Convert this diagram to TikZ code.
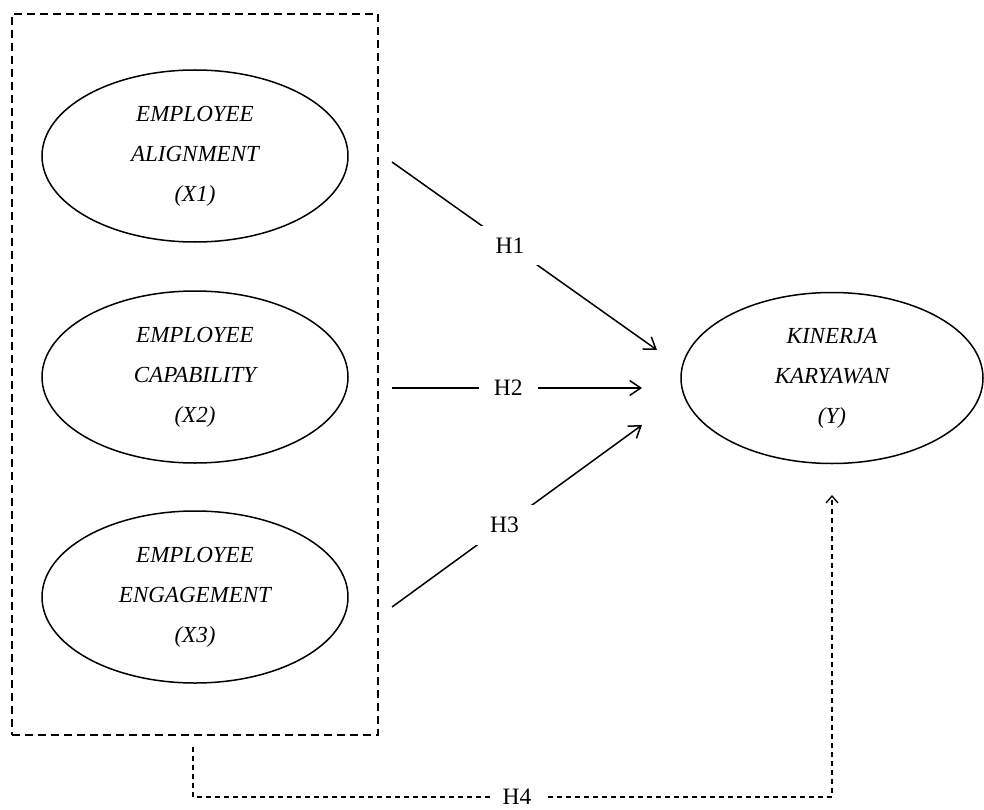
\documentclass[tikz,border=0pt]{standalone}
\usepackage{fontspec}
\setmainfont{Liberation Serif}
\usetikzlibrary{shapes.geometric,arrows.meta}
\begin{document}
\begin{tikzpicture}[x=1pt,y=-1pt,
  var/.style={ellipse,draw,line width=1.5pt,minimum width=306pt,minimum height=172pt,
    inner sep=0pt,align=center,font=\fontsize{23}{40}\selectfont\itshape},
  grpbox/.style={draw,line width=1.5pt,dash pattern=on 8pt off 5pt,
    minimum width=366pt,minimum height=721pt,inner sep=0pt},
  hyp/.style={draw,line width=1.5pt,-{Straight Barb[length=11pt,width=15pt,line width=1.5pt]}},
  hlab/.style={fill=white,font=\fontsize{23.5}{26}\selectfont,inner xsep=15pt,inner ysep=12pt},
  modline/.style={draw,line width=1.3pt,dash pattern=on 5pt off 4pt,
    -{Straight Barb[length=7pt,width=12pt,line width=1.3pt]}},
  mlab/.style={fill=white,font=\fontsize{23.5}{26}\selectfont,inner xsep=13pt,inner ysep=3pt}
]
\useasboundingbox (0,0) rectangle (984,810);

\node[grpbox] (grp) at (195,374.5) {};

\node[var] (x1) at (195,156) {EMPLOYEE\\ALIGNMENT\\(X1)};
\node[var] (x2) at (195,377) {EMPLOYEE\\CAPABILITY\\(X2)};
\node[var] (x3) at (195,597) {EMPLOYEE\\ENGAGEMENT\\(X3)};
\node[var, minimum width=302pt, minimum height=171pt] (y) at (832,378) {KINERJA\\KARYAWAN\\(Y)};

\coordinate (h1s) at (392,162);
\coordinate (h1e) at (657,350);
\coordinate (h2s) at (392,388);
\coordinate (h2e) at (642,388);
\coordinate (h3s) at (392,607);
\coordinate (h3e) at (642,425);

\draw[hyp] (h1s) -- node[hlab, pos=0.445] (l1) {H1} (h1e);
\draw[hyp] (h2s) -- node[hlab, pos=0.465] (l2) {H2} (h2e);
\draw[hyp] (h3s) -- node[hlab, pos=0.45] (l3) {H3} (h3e);

\coordinate (h4s) at (193,747);
\coordinate (h4a) at (193,797);
\coordinate (h4b) at (832,797);
\coordinate (h4e) at (832,495);
\draw[modline] (h4s) -- (h4a) -- node[mlab, pos=0.507] (l4) {H4} (h4b) -- (h4e);
\end{tikzpicture}
\end{document}
